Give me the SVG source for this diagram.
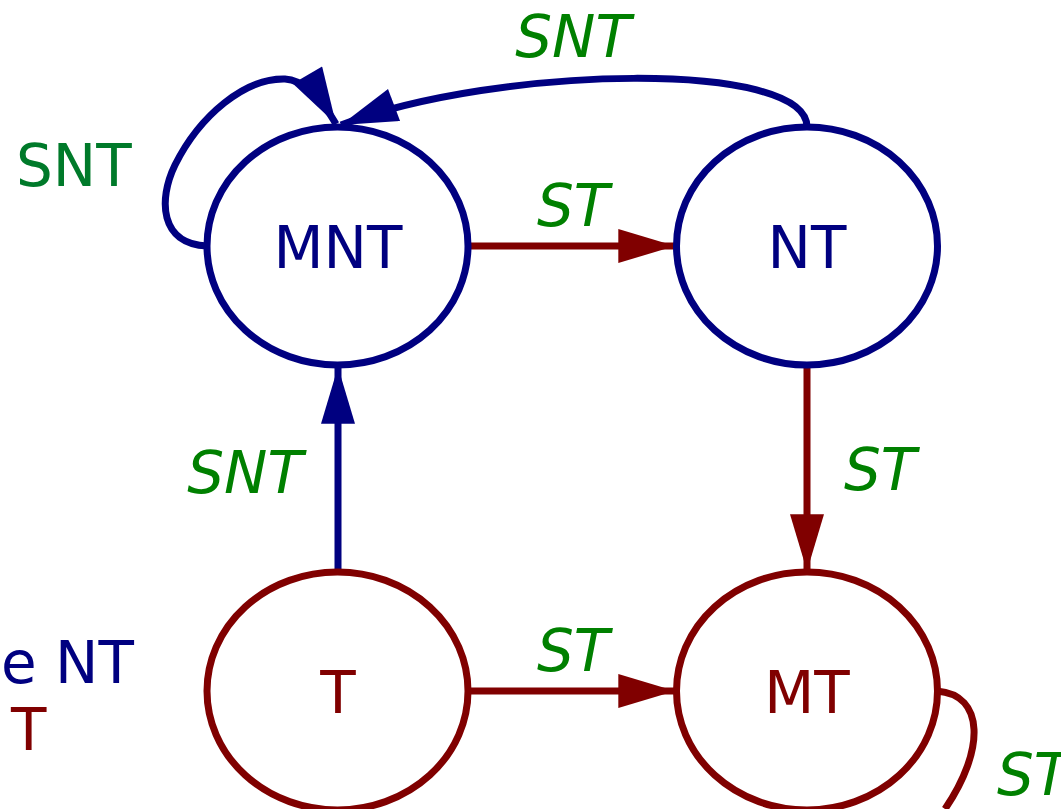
<svg xmlns="http://www.w3.org/2000/svg" width="1061" height="809" viewBox="0 0 1061 809">
<defs>
<style>
.nb{fill:#fff;stroke:#000080;stroke-width:7}
.nr{fill:#fff;stroke:#800000;stroke-width:7}
.eb{fill:none;stroke:#000080;stroke-width:7}
.er{fill:none;stroke:#800000;stroke-width:7}
text{font-family:"DejaVu Sans",sans-serif;font-size:58px}
.lb{fill:#000080}
.lr{fill:#800000}
.g{fill:#008000;font-style:italic}
.g2{fill:#007a2a}
</style>
<marker id="ab" markerUnits="userSpaceOnUse" markerWidth="60" markerHeight="34" refX="50" refY="15" orient="auto" viewBox="0 0 52 30"><path d="M0,0 L50,15 L0,30 Z" fill="#000080"/></marker>
<marker id="ar" markerUnits="userSpaceOnUse" markerWidth="60" markerHeight="34" refX="50" refY="15" orient="auto" viewBox="0 0 52 30"><path d="M0,0 L50,15 L0,30 Z" fill="#800000"/></marker>
</defs>
<g id="edges">
<path class="er" d="M468,246 L675,246" marker-end="url(#ar)"/>
<path class="er" d="M807,365 L807,571" marker-end="url(#ar)"/>
<path class="eb" d="M338,573 L338,367" marker-end="url(#ab)"/>
<path class="er" d="M468,691 L675,691" marker-end="url(#ar)"/>
<path class="eb" d="M807,127 C807,60 500,65 341,125" marker-end="url(#ab)"/>
<path class="eb" d="M207,246 C160,244 158,200 175,165 C200,115 245,78 285,79 C305,80 322,100 336,124" marker-end="url(#ab)"/>
<path class="er" d="M937,691 C985,695 985,750 945,809"/>
</g>
<g id="MNT"><ellipse class="nb" cx="337.5" cy="246" rx="130.5" ry="119"/><text class="lb" x="338" y="268" text-anchor="middle">MNT</text></g>
<g id="NT"><ellipse class="nb" cx="807" cy="246" rx="130.5" ry="119"/><text class="lb" x="807" y="268" text-anchor="middle">NT</text></g>
<g id="T"><ellipse class="nr" cx="337.5" cy="691" rx="130.5" ry="119"/><text class="lr" x="338" y="713" text-anchor="middle">T</text></g>
<g id="MT"><ellipse class="nr" cx="807" cy="691" rx="130.5" ry="119"/><text class="lr" x="807" y="713" text-anchor="middle">MT</text></g>
<g id="labels">
<text class="g" x="573" y="57" text-anchor="middle">SNT</text>
<text class="g2" x="16" y="186">SNT</text>
<text class="g" x="573" y="226" text-anchor="middle">ST</text>
<text class="g" x="880" y="490" text-anchor="middle">ST</text>
<text class="g" x="245" y="493" text-anchor="middle">SNT</text>
<text class="g" x="573" y="671" text-anchor="middle">ST</text>
<text class="g" x="997" y="795">ST</text>
<text class="lb" x="1" y="683">e NT</text>
<text class="lr" x="11" y="750">T</text>
</g>
</svg>
